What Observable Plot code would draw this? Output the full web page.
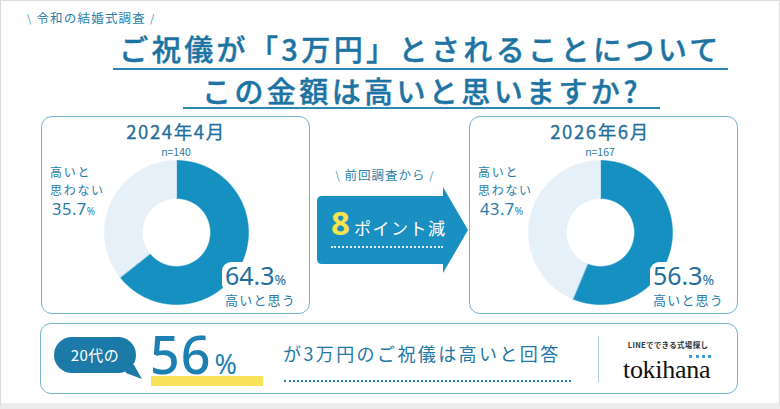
<!DOCTYPE html>
<html><head><meta charset="utf-8">
<script src="https://cdn.jsdelivr.net/npm/d3@7"></script>
<script src="https://cdn.jsdelivr.net/npm/@observablehq/plot@0.6"></script>
<style>
html,body{margin:0;padding:0;background:#fff;}
#c{position:relative;width:780px;height:409px;overflow:hidden;background:#fff;
  font-family:"Noto Sans CJK JP","Noto Sans",sans-serif;color:#1f77a8;}
#c *{box-sizing:border-box;}
.a{position:absolute;white-space:nowrap;}
.box{position:absolute;border:1.5px solid #74b3d3;border-radius:11px;}
.sl{font-family:"DejaVu Sans",sans-serif;font-weight:300;}
</style></head>
<body><div id="c"></div>
<script>
// ---- data ----
const kicker = "令和の結婚式調査";
const titleLines = ["ご祝儀が「3万円」とされることについて", "この金額は高いと思いますか?"];
const surveys = ["2024年4月", "2026年6月"];
const sampleSizes = [140, 167];
const answers = ["高いと思う", "高いと思わない"];
const answerLabelLines = [["高いと思う"], ["高いと", "思わない"]];
const sharesHigh = [64.3, 56.3];
const sharesNotHigh = [35.7, 43.7];
const changeLabel = "前回調査から";
const changePoints = 8;
const changeText = "ポイント減";
const twentiesLabel = "20代の";
const twentiesShare = 56;
const twentiesText = "が3万円のご祝儀は高いと回答";
const brandTag = "LINEでできる式場探し";
const brandName = "tokihana";
const donutColors = ["#1590c0", "#e5f0f9"];

const C = document.getElementById("c");
function el(tag, css, html) {
  const e = document.createElement(tag);
  e.className = "a";
  e.style.cssText = css;
  if (html != null) e.innerHTML = html;
  C.appendChild(e);
  return e;
}

// outer frame
el("div", "left:0;top:0;width:780px;height:409px;border:1px solid #dcdcdc;border-bottom:6px solid #ececec;");

// kicker
el("div", "left:27px;top:9px;font-size:12.5px;letter-spacing:1.2px;line-height:18px;color:#2a7fab;",
  `<span class="sl">\\</span> ${kicker} <span class="sl">/</span>`);

// title
el("div", "left:113px;width:615px;top:30px;font-size:29px;line-height:36px;padding-bottom:2px;text-align:center;letter-spacing:3.4px;font-weight:500;border-bottom:2px solid #2a86b3;color:#1d74a3;-webkit-text-stroke:0.4px #1d74a3;", titleLines[0]);
el("div", "left:183px;width:477px;top:73px;font-size:29px;line-height:34px;text-align:center;letter-spacing:3.4px;font-weight:500;border-bottom:2px solid #2a86b3;color:#1d74a3;-webkit-text-stroke:0.4px #1d74a3;", titleLines[1]);

// boxes
const boxes = [{l:41, w:269}, {l:469, w:269}];
boxes.forEach(b => {
  const d = document.createElement("div");
  d.className = "box";
  d.style.cssText = `left:${b.l}px;top:116px;width:${b.w}px;height:198px;`;
  C.appendChild(d);
});
{ const d = document.createElement("div"); d.className = "box";
  d.style.cssText = "left:40px;top:323px;width:698px;height:71px;"; C.appendChild(d); }

// donut via Plot
const R0 = 34 / 72;
function donut(values) {
  const rows = [];
  const total = d3.sum(values);
  let start = 0;
  values.forEach((v, i) => {
    const a0 = start / total * 2 * Math.PI, a1 = (start + v) / total * 2 * Math.PI;
    const n = Math.max(2, Math.ceil((a1 - a0) / (Math.PI / 360)));
    for (let k = 0; k <= n; k++) { const a = a0 + (a1 - a0) * k / n; rows.push({cat: answers[i], x: Math.sin(a), y: Math.cos(a)}); }
    for (let k = n; k >= 0; k--) { const a = a0 + (a1 - a0) * k / n; rows.push({cat: answers[i], x: R0 * Math.sin(a), y: R0 * Math.cos(a)}); }
    start += v;
  });
  return Plot.plot({
    width: 144, height: 144, margin: 0, inset: 0,
    style: {background: "transparent", overflow: "visible"},
    x: {domain: [-1, 1], axis: null},
    y: {domain: [-1, 1], axis: null},
    color: {domain: answers, range: donutColors},
    marks: [Plot.line(rows, {x: "x", y: "y", z: "cat", fill: "cat", stroke: "cat", strokeWidth: 0.6, curve: "linear-closed"})]
  });
}

const centers = [176, 600];
surveys.forEach((s, i) => {
  const cx = centers[i];
  // header
  el("div", `left:${cx - 80}px;width:160px;top:121px;text-align:center;font-size:18.5px;line-height:20px;font-weight:400;color:#1f6f9c;letter-spacing:1.6px;-webkit-text-stroke:0.3px #1f6f9c;`, s);
  el("div", `left:${cx - 40}px;width:80px;top:146px;text-align:center;font-size:10.5px;line-height:12px;color:#2b7aa3;`, `n=${sampleSizes[i]}`);
  // donut
  const w = el("div", `left:${cx - 72}px;top:160px;width:144px;height:144px;`);
  w.appendChild(donut([sharesHigh[i], sharesNotHigh[i]]));
  // left labels
  const lx = i === 0 ? 50 : 478;
  answerLabelLines[1].forEach((t, j) => {
    el("div", `left:${lx}px;top:${163 + j * 18}px;font-size:12px;line-height:17px;letter-spacing:1.7px;color:#2b7ba6;`, t);
  });
  el("div", `left:${lx + 2}px;top:199px;font-size:16.5px;line-height:20px;letter-spacing:0.5px;color:#2b7ba6;font-family:'Noto Sans',sans-serif;`,
    `${sharesNotHigh[i]}<span style="font-size:10px;">%</span>`);
  // right labels
  const rx = i === 0 ? 222 : 650;
  el("div", `left:${rx}px;top:262px;padding:0 3px;background:#fff;border-radius:9px;font-size:25px;line-height:26px;color:#1f6f9c;font-family:'Noto Sans',sans-serif;`,
    `${sharesHigh[i]}<span style="font-size:14px;">%</span>`);
  el("div", `left:${rx + 3}px;top:292px;font-size:13px;line-height:16px;letter-spacing:1.2px;color:#2b7ba6;`, answerLabelLines[0][0]);
});

// middle arrow
el("div", "left:325px;top:166px;width:120px;text-align:center;font-size:12.5px;line-height:18px;letter-spacing:1px;color:#2a7fab;",
  `<span class="sl">\\</span> ${changeLabel} <span class="sl">/</span>`);
el("div", "left:317px;top:187px;width:152px;height:86px;",
  `<svg width="152" height="86"><path d="M5,9 H126 V0 L151,43 L126,86 V77 H5 Q0,77 0,72 V14 Q0,9 5,9 Z" fill="#1a90c2"/></svg>`);
el("div", "left:331px;top:205px;line-height:36px;color:#fff;",
  `<span style="font-size:33px;font-weight:700;color:#f7e34c;font-family:'Noto Sans',sans-serif;">${changePoints}</span><span style="font-size:17px;letter-spacing:1.5px;margin-left:4px;">${changeText}</span>`);
el("div", "left:331px;top:246px;width:112px;height:0;border-top:2px dotted rgba(255,255,255,0.85);");

// bottom panel
el("div", "left:54px;top:337px;width:82px;height:36px;border-radius:18px;background:#1c7aa8;color:#fff;font-size:15px;line-height:36px;text-align:center;letter-spacing:0.5px;", twentiesLabel);
el("div", "left:124px;top:362px;width:20px;height:16px;",
  `<svg width="20" height="16"><path d="M0,0 L10,0 L18,14 L2,8 Z" fill="#1c7aa8"/></svg>`);
el("div", "left:151px;top:376px;width:112px;height:10px;background:#f8e35a;");
el("div", "left:150px;top:326px;line-height:56px;color:#1d80b2;font-family:'Noto Sans',sans-serif;",
  `<span style="font-size:52px;letter-spacing:1px;font-weight:500;">${twentiesShare}</span><span style="font-size:27px;margin-left:3px;">%</span>`);
el("div", "left:283px;top:340px;font-size:18px;line-height:26px;letter-spacing:2.4px;color:#1f78a6;", twentiesText);
el("div", "left:284px;top:380px;width:287px;height:0;border-top:2px dotted #2a86b3;");
el("div", "left:598px;top:336px;width:0;height:46px;border-left:1px solid #a6cde0;");
el("div", "left:622px;top:340px;width:92px;text-align:center;font-size:7.5px;line-height:10px;font-weight:700;color:#333;letter-spacing:0.3px;", brandTag);
el("div", "left:689px;top:355px;width:22px;height:0;border-top:3px dotted #3aa0d8;");
el("div", "left:623px;top:355px;font-family:'Liberation Serif','DejaVu Serif',serif;font-size:26px;line-height:30px;color:#111;letter-spacing:-0.3px;", brandName);
</script>
</body></html>
